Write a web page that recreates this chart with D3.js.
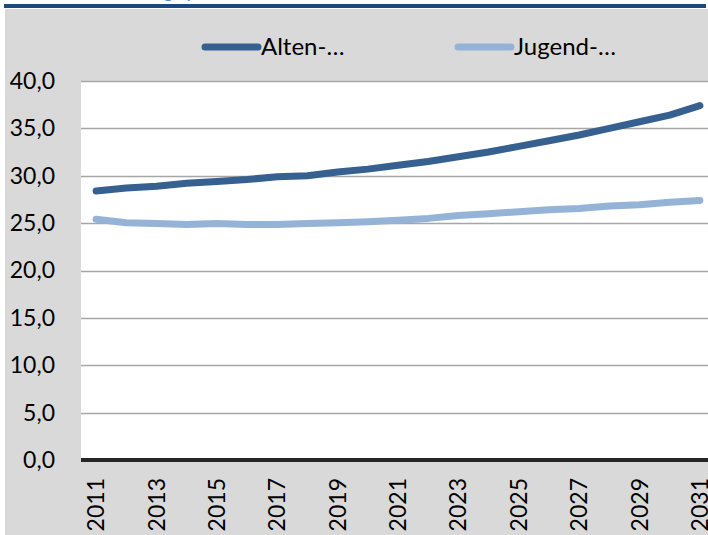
<!DOCTYPE html>
<html>
<head>
<meta charset="utf-8">
<script src="https://cdn.jsdelivr.net/npm/d3@7"></script>
<style>
  html, body { margin: 0; padding: 0; background: #ffffff; overflow: hidden; }
  svg { display: block; }
</style>
</head>
<body>
<svg id="chart" width="708" height="535"></svg>
<script>
const years = ["2011","2012","2013","2014","2015","2016","2017","2018","2019","2020","2021",
               "2022","2023","2024","2025","2026","2027","2028","2029","2030","2031"];
const altenValues = [28.4,28.7,28.9,29.2,29.4,29.6,29.9,30.0,30.4,30.7,31.1,
                     31.5,32.0,32.5,33.1,33.7,34.3,35.0,35.7,36.4,37.4];
const jugendValues = [25.4,25.05,24.95,24.85,24.95,24.85,24.85,24.95,25.05,25.15,25.3,
                      25.5,25.8,26.0,26.2,26.4,26.55,26.8,26.95,27.2,27.4];
const seriesNames = ["Alten-…","Jugend-…"];
const yTicks = [0,5,10,15,20,25,30,35,40];
const titleText = "Belastungsquoten";

const svg = d3.select("#chart");
const W = 708, H = 535;
const plot = {left: 81, top: 81, bottom: 460, right: 715};
const fontFam = "Lato, 'Open Sans', sans-serif";

// outer frame
svg.append("rect").attr("x",0).attr("y",0).attr("width",W).attr("height",H).attr("fill","#ffffff");
svg.append("rect").attr("x",5).attr("y",9).attr("width",W-5).attr("height",H-9).attr("fill","#d9d9d9");
svg.append("rect").attr("x",4).attr("y",4).attr("width",W-6).attr("height",4).attr("fill","#1f497d");
svg.append("text").attr("x",95).attr("y",-2).attr("font-family",fontFam).attr("font-size",18)
   .attr("fill","#4a86c8").text(titleText);

const x = d3.scalePoint().domain(years).range([plot.left, plot.right]).padding(0.5);
const y = d3.scaleLinear().domain([0,40]).range([plot.bottom, plot.top]);

// plot background
svg.append("rect").attr("x",plot.left).attr("y",plot.top)
   .attr("width",W-plot.left).attr("height",plot.bottom-plot.top).attr("fill","#ffffff");

// gridlines
svg.append("g").selectAll("line").data(yTicks.filter(d=>d>0)).join("line")
  .attr("x1",plot.left).attr("x2",W)
  .attr("y1",d=>Math.round(y(d))+0.5).attr("y2",d=>Math.round(y(d))+0.5)
  .attr("stroke","#a6a6a6").attr("stroke-width",1.3);

// y axis labels
const yAxis = d3.axisLeft(y).tickValues(yTicks).tickSize(0).tickPadding(26)
  .tickFormat(d => d3.format(".1f")(d).replace(".", ","));
const gy = svg.append("g").attr("transform",`translate(${plot.left},0)`).call(yAxis);
gy.select(".domain").remove();
gy.selectAll("text").attr("font-family",fontFam).attr("font-size",23).attr("fill","#000");

// x axis labels
const xAxis = d3.axisBottom(x).tickValues(years.filter((d,i)=>i%2===0)).tickSize(0).tickPadding(0);
const gx = svg.append("g").attr("transform",`translate(0,${plot.bottom})`).call(xAxis);
gx.select(".domain").remove();
gx.selectAll("text")
  .attr("font-family",fontFam).attr("font-size",23).attr("fill","#000")
  .attr("transform","rotate(-90)")
  .attr("text-anchor","end")
  .attr("x",-18).attr("y",0).attr("dy","0.35em");
gx.selectAll(".tick").attr("transform", d => `translate(${x(d)},0)`);

// baseline
svg.append("line").attr("x1",plot.left).attr("x2",W)
  .attr("y1",plot.bottom).attr("y2",plot.bottom)
  .attr("stroke","#262626").attr("stroke-width",4);

// lines
const colors = ["#36608f","#95b3d7"];
const lineGen = d3.line().x((d,i)=>x(years[i])).y(d=>y(d));
[jugendValues, altenValues].forEach((vals, k) => {
  const c = k===0 ? colors[1] : colors[0];
  svg.append("path").datum(vals).attr("d",lineGen)
    .attr("fill","none").attr("stroke",c).attr("stroke-width",7)
    .attr("stroke-linecap","round").attr("stroke-linejoin","round");
});

// legend
const legendX = [202, 455];
seriesNames.forEach((name, i) => {
  const g = svg.append("g").attr("transform",`translate(${legendX[i]},47)`);
  g.append("line").attr("x1",3).attr("x2",56).attr("y1",0).attr("y2",0)
    .attr("stroke",colors[i]).attr("stroke-width",7).attr("stroke-linecap","round");
  g.append("text").attr("x",59).attr("y",0).attr("dy","0.35em")
    .attr("font-family",fontFam).attr("font-size",24).attr("fill","#000").text(name);
});
</script>
</body>
</html>
